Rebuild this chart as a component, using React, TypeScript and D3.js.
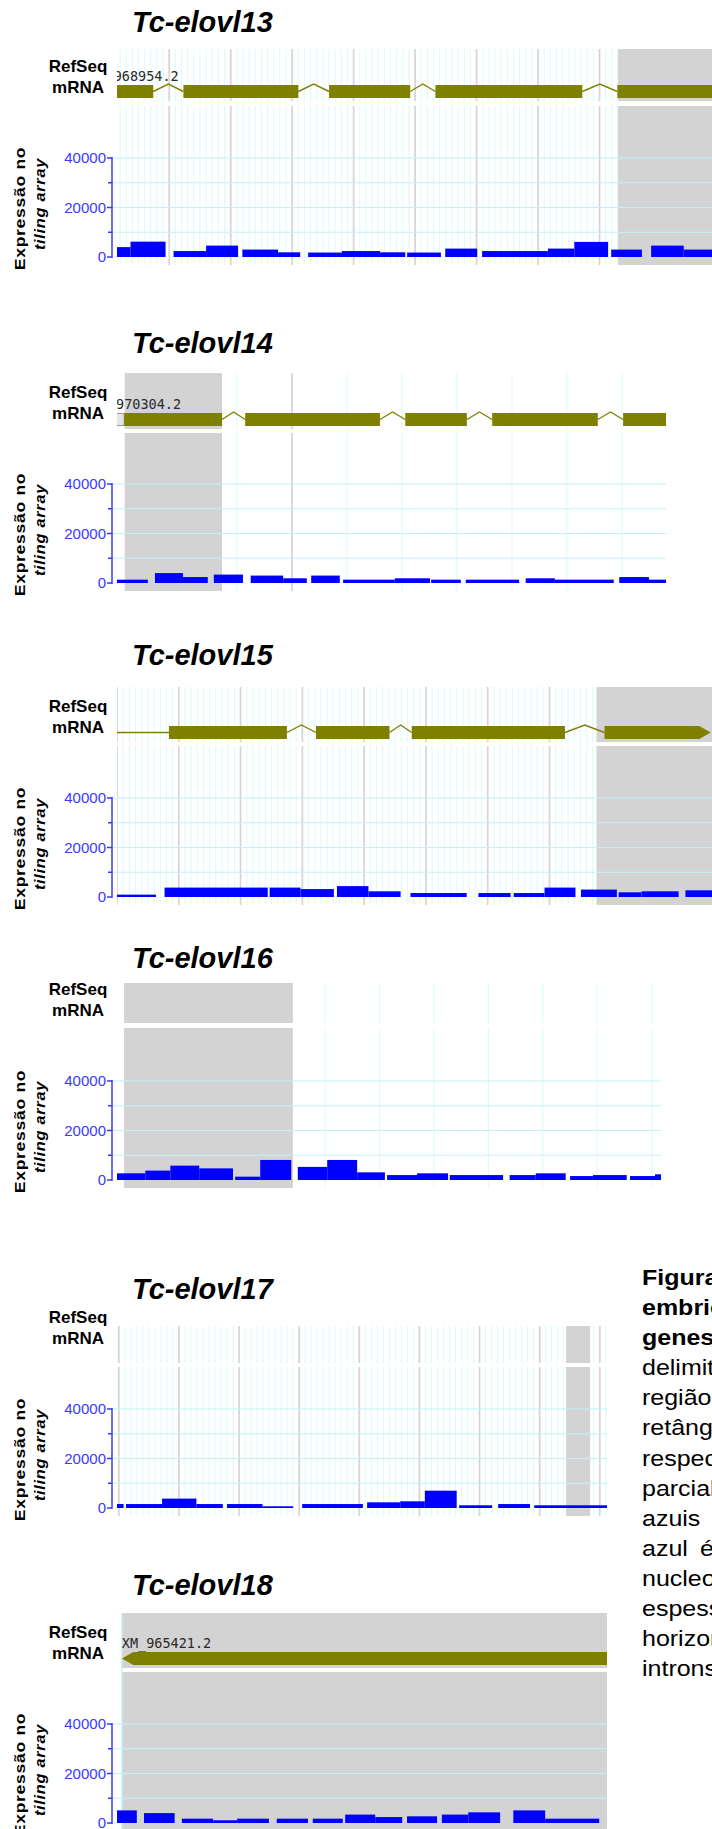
import React from "react";
import * as d3 from "d3";

// ---------- data ----------
const geneNames = ["Tc-elovl13", "Tc-elovl14", "Tc-elovl15", "Tc-elovl16", "Tc-elovl17", "Tc-elovl18"];
const accessions = ["XM_968954.2", "XM_970304.2", "", "", "", "XM_965421.2"];

const yGridValues = [10000, 20000, 30000, 40000];
const yTickValues = [0, 20000, 40000];
const yMinorTickValues = [10000, 30000];

// genomic window of each panel (kb)
const window13 = [0.15, 9.83];
const window14 = [6.82, 16.8];
const window15 = [0, 9.63];
const window16 = [9.18, 19.17];
const window17 = [9.97, 18.12];
const window18 = [0.92, 9.08];

// grid spacing (kb): minor cyan, major grey
const grid13 = [0.1, 1];
const grid14 = [1, 10];
const grid15 = [0.1, 1];
const grid16 = [1, 10];
const grid17 = [0.1, 1];
const grid18 = [1, 10];

// tiling array signal: [start kb, end kb, expression]
const signal13 = [
  [0.15, 0.37, 4000], [0.37, 0.94, 6200], [1.07, 1.6, 2400], [1.6, 2.12, 4600],
  [2.19, 2.77, 3000], [2.77, 3.13, 1900], [3.26, 3.81, 1800], [3.81, 4.43, 2400],
  [4.43, 4.84, 1900], [4.87, 5.42, 1800], [5.49, 6.01, 3400], [6.09, 7.16, 2400],
  [7.16, 7.59, 3400], [7.59, 8.14, 6100], [8.19, 8.69, 3000], [8.84, 9.37, 4600],
  [9.37, 10.0, 3000],
];
const signal14 = [
  [6.82, 7.38, 1350], [7.51, 8.02, 4000], [8.02, 8.47, 2400], [8.58, 9.11, 3400],
  [9.25, 9.84, 3000], [9.84, 10.27, 1900], [10.35, 10.87, 3000], [10.93, 11.87, 1350],
  [11.87, 12.51, 1900], [12.53, 13.07, 1350], [13.16, 14.13, 1350], [14.25, 14.78, 1900],
  [14.78, 15.85, 1350], [15.95, 16.49, 2400], [16.49, 16.8, 1350],
];
const signal15 = [
  [0, 0.63, 950], [0.77, 2.44, 3800], [2.47, 2.97, 3800], [2.97, 3.51, 3200],
  [3.56, 4.07, 4400], [4.07, 4.59, 2300], [4.75, 5.66, 1600], [5.85, 6.37, 1600],
  [6.42, 6.92, 1600], [6.92, 7.42, 3800], [7.51, 8.09, 3000], [8.12, 8.49, 1900],
  [8.49, 9.09, 2300], [9.2, 9.8, 2700],
];
const signal16 = [
  [9.18, 9.7, 2700], [9.7, 10.16, 3800], [10.16, 10.69, 5800], [10.69, 11.31, 4700],
  [11.35, 11.81, 1350], [11.81, 12.38, 8100], [12.5, 13.04, 5300], [13.04, 13.59, 8100],
  [13.59, 14.1, 3100], [14.14, 14.69, 2000], [14.69, 15.26, 2700], [15.29, 16.27, 2000],
  [16.39, 16.87, 2000], [16.87, 17.42, 2700], [17.5, 17.92, 1600], [17.92, 18.54, 2000],
  [18.6, 19.06, 1600], [19.06, 19.17, 2300],
];
const signal17 = [
  [9.97, 10.08, 1600], [10.12, 10.72, 1600], [10.72, 11.29, 3800], [11.29, 11.73, 1600],
  [11.8, 12.39, 1600], [12.39, 12.9, 700], [13.05, 14.06, 1600], [14.13, 14.68, 2300],
  [14.68, 15.09, 2700], [15.09, 15.62, 7000], [15.66, 16.21, 1100], [16.31, 16.84, 1600],
  [16.91, 18.12, 1100],
];
const signal18 = [
  [0.92, 1.25, 5100], [1.37, 1.88, 4000], [2.0, 2.52, 1750], [2.52, 2.92, 1100],
  [2.92, 3.45, 1750], [3.58, 4.1, 1750], [4.18, 4.68, 1750], [4.72, 5.22, 3400],
  [5.22, 5.67, 2400], [5.75, 6.25, 2700], [6.33, 6.77, 3400], [6.77, 7.3, 4300],
  [7.52, 8.05, 5100], [8.05, 8.95, 1750],
];

// RefSeq mRNA models (kb)
const exons13 = [[-0.3, 0.74], [1.23, 3.1], [3.6, 4.92], [5.33, 7.72], [8.29, 10.2]];
const exons14 = [[6.95, 8.73], [9.15, 11.6], [12.06, 13.18], [13.64, 15.56], [16.02, 16.8]];
const exons15 = [[0.84, 2.75], [3.22, 4.41], [4.77, 7.25], [7.89, 9.61]];
const exons16: number[][] = [];
const exons17: number[][] = [];
const exons18 = [[1.0, 9.08]];
const utrBoxes = [[], [[6.36, 6.95]], [], [], [], []];
const utrLines = [[], [], [[0, 0.84]], [], [], []];
const strands = ["", "", "+", "", "", "-"];

// grey selection boxes (kb)
const highlight13 = [[8.3, 10.2]];
const highlight14 = [[6.96, 8.73]];
const highlight15 = [[7.76, 10]];
const highlight16 = [[9.31, 12.41]];
const highlight17 = [[17.44, 17.84]];
const highlight18 = [[1.0, 9.08]];

const captionLines = [
  "Figura 12. Perfil de expressão",
  "embrionária dos",
  "genes Tc-elovl13 a 18.",
  "delimitados pelas linhas",
  "região codificante",
  "retângulos cinzas",
  "respectivamente",
  "parcialmente",
  "azuis",
  "azul",
  "nucleotídeos",
  "espessura",
  "horizontais",
  "introns.",
];

const windows = [window13, window14, window15, window16, window17, window18];
const grids = [grid13, grid14, grid15, grid16, grid17, grid18];
const signals = [signal13, signal14, signal15, signal16, signal17, signal18];
const exonSets = [exons13, exons14, exons15, exons16, exons17, exons18];
const highlights = [highlight13, highlight14, highlight15, highlight16, highlight17, highlight18];

// ---------- layout ----------
const layout = [
  { zero: 257, trackTop: 49, trackBottom: 101, exprTop: 106, right: 712, titleY: 32 },
  { zero: 583, trackTop: 373, trackBottom: 429, exprTop: 433, right: 666, titleY: 353 },
  { zero: 897, trackTop: 687, trackBottom: 742, exprTop: 746, right: 712, titleY: 665 },
  { zero: 1180, trackTop: 983, trackBottom: 1023, exprTop: 1028, right: 661, titleY: 968 },
  { zero: 1508, trackTop: 1326, trackBottom: 1363, exprTop: 1367, right: 607, titleY: 1299 },
  { zero: 1823, trackTop: 1613, trackBottom: 1668, exprTop: 1672, right: 607, titleY: 1595, edge: true },
];

const FONT = "'Liberation Sans', Arial, Helvetica, sans-serif";
const MONO = "'DejaVu Sans Mono', monospace";
const OLIVE = "#808000";
const BLUE = "#0000ff";
const AXIS = "#3a3aff";
const SHADE = "#d3d3d3";
const MINOR = "#d8fbfb";
const MAJOR = "#d6d6d6";
const HGRID = "#c4f2f2";
const LEFT = 117;
const AXIS_X = 112;

const stepValues = (d0: number, d1: number, step: number) => {
  const i0 = Math.ceil(d0 / step - 1e-6);
  const i1 = Math.floor(d1 / step + 1e-6);
  return d3.range(i0, i1 + 1).map((i) => +(i * step).toFixed(4));
};

function GenePanel({ i }: { i: number }) {
  const L: any = layout[i];
  const win = windows[i];
  const [minor, major] = grids[i];
  const x = d3.scaleLinear().domain(win).range([LEFT, L.right]);
  const y = d3.scaleLinear().domain([0, 40000]).range([L.zero, L.zero - 99]);
  const exprBottom = L.zero + 8;
  const yc = L.trackBottom - 9.5;
  const exTop = yc - 6.5;
  const exBot = yc + 6.5;
  const clipId = `clip-${i}`;

  const gridVals = stepValues(win[0], win[1], minor);
  const isMajor = (v: number) => Math.abs(v / major - Math.round(v / major)) < 1e-6;

  const exons = exonSets[i];
  const introns = exons.slice(1).map((e, k) => [exons[k][1], e[0]]);
  const parts = [...exons, ...utrBoxes[i], ...utrLines[i]];
  const geneStart = parts.length ? d3.min(parts, (p) => p[0]) : null;
  const arrow = 11.5;

  const exonShape = (e: number[], k: number) => {
    const x1 = x(e[0]);
    const x2 = x(e[1]);
    if (strands[i] === "+" && k === exons.length - 1) {
      return `${x1},${exTop} ${x2 - arrow},${exTop} ${x2},${yc} ${x2 - arrow},${exBot} ${x1},${exBot}`;
    }
    if (strands[i] === "-" && k === 0) {
      return `${x1},${yc} ${x1 + arrow},${exTop} ${x2},${exTop} ${x2},${exBot} ${x1 + arrow},${exBot}`;
    }
    return `${x1},${exTop} ${x2},${exTop} ${x2},${exBot} ${x1},${exBot}`;
  };

  const bands = [
    [L.trackTop, L.trackBottom],
    [L.exprTop, exprBottom],
  ];

  return (
    <g>
      <defs>
        <clipPath id={clipId}>
          <rect x={LEFT} y={L.trackTop} width={L.right - LEFT} height={exprBottom - L.trackTop} />
        </clipPath>
      </defs>

      <g clipPath={`url(#${clipId})`}>
        {/* vertical grid */}
        {bands.map(([t, b], bi) =>
          gridVals
            .filter((v) => !isMajor(v))
            .map((v) => (
              <line key={`m${bi}-${v}`} x1={x(v)} x2={x(v)} y1={t} y2={b} stroke={MINOR} strokeWidth={1} />
            ))
        )}
        {bands.map(([t, b], bi) =>
          gridVals
            .filter((v) => isMajor(v))
            .map((v) => (
              <line key={`M${bi}-${v}`} x1={x(v)} x2={x(v)} y1={t} y2={b} stroke={MAJOR} strokeWidth={1.8} />
            ))
        )}

        {/* grey selection */}
        {highlights[i].map((h, k) =>
          bands.map(([t, b], bi) => (
            <rect key={`h${k}-${bi}`} x={x(h[0])} y={t} width={x(h[1]) - x(h[0])} height={b - t} fill={SHADE} />
          ))
        )}
        {L.edge &&
          highlights[i].map((h, k) => (
            <line key={`e${k}`} x1={x(h[0])} x2={x(h[0])} y1={L.trackTop} y2={exprBottom} stroke="#c8f6f6" strokeWidth={1.5} />
          ))}
      </g>

      {/* horizontal grid */}
      {yGridValues.map((v) => (
        <line key={`g${v}`} x1={AXIS_X} x2={L.right} y1={y(v)} y2={y(v)} stroke={HGRID} strokeWidth={1.2} />
      ))}

      <g clipPath={`url(#${clipId})`}>
        {/* gene model */}
        {utrLines[i].map((u, k) => (
          <line key={`ul${k}`} x1={x(u[0])} x2={x(u[1])} y1={yc} y2={yc} stroke={OLIVE} strokeWidth={1.6} />
        ))}
        {introns.map((n, k) => (
          <path
            key={`i${k}`}
            d={`M${x(n[0])},${yc} L${(x(n[0]) + x(n[1])) / 2},${exTop - 1} L${x(n[1])},${yc}`}
            fill="none"
            stroke={OLIVE}
            strokeWidth={1.4}
          />
        ))}
        {utrBoxes[i].map((u, k) => (
          <rect key={`ub${k}`} x={x(u[0])} y={exTop + 0.5} width={x(u[1]) - x(u[0])} height={exBot - exTop - 1} fill="#e4e4e4" stroke="#9a9a9a" strokeWidth={1} />
        ))}
        {exons.map((e, k) => (
          <polygon key={`x${k}`} points={exonShape(e, k)} fill={OLIVE} />
        ))}
        {accessions[i] && geneStart !== null && (
          <text x={x(geneStart)} y={exTop - 4.5} fontFamily={MONO} fontSize={13.5} fill="#2a2a2a">
            {accessions[i]}
          </text>
        )}

        {/* tiling array signal */}
        {signals[i].map((s, k) => (
          <rect key={`b${k}`} x={x(s[0])} y={y(s[2])} width={x(s[1]) - x(s[0])} height={L.zero - y(s[2])} fill={BLUE} />
        ))}
      </g>

      {/* y axis */}
      <line x1={AXIS_X} x2={AXIS_X} y1={y(40000) - 1} y2={L.zero + 1} stroke={AXIS} strokeWidth={1.5} />
      {yTickValues.map((v) => (
        <g key={`t${v}`}>
          <line x1={AXIS_X - 5} x2={AXIS_X} y1={y(v)} y2={y(v)} stroke={AXIS} strokeWidth={1.5} />
          <text x={106} y={y(v)} dy="0.36em" textAnchor="end" fontFamily={FONT} fontSize={15} fill={AXIS}>
            {d3.format("d")(v)}
          </text>
        </g>
      ))}
      {yMinorTickValues.map((v) => (
        <line key={`mt${v}`} x1={AXIS_X - 4} x2={AXIS_X} y1={y(v)} y2={y(v)} stroke={AXIS} strokeWidth={1.5} />
      ))}

      {/* labels */}
      <text x={132} y={L.titleY} fontFamily={FONT} fontSize={29} fontWeight="bold" fontStyle="italic" fill="#000">
        {geneNames[i]}
      </text>
      <text x={78} y={L.zero - 185} textAnchor="middle" fontFamily={FONT} fontSize={17} fontWeight="bold" fill="#000">
        RefSeq
      </text>
      <text x={78} y={L.zero - 164} textAnchor="middle" fontFamily={FONT} fontSize={17} fontWeight="bold" fill="#000">
        mRNA
      </text>
      <text
        transform={`translate(24.5, ${L.zero - 48.5}) scale(1, 1.17) rotate(-90)`}
        textAnchor="middle"
        fontFamily={FONT}
        fontSize={15}
        fontWeight="bold"
        letterSpacing={0.6}
        fill="#000"
      >
        Expressão no
      </text>
      <text
        transform={`translate(45, ${L.zero - 53}) scale(1, 1.17) rotate(-90)`}
        textAnchor="middle"
        fontFamily={FONT}
        fontSize={14}
        fontWeight="bold"
        fontStyle="italic"
        letterSpacing={0.6}
        fill="#000"
      >
        tiling array
      </text>
    </g>
  );
}

function Caption() {
  const step = 30.1 / 0.87;
  return (
    <g transform="translate(642, 1285) scale(1, 0.87)" fontFamily={FONT} fontSize={25} fill="#000">
      {captionLines.map((t, k) => (
        <text key={k} x={0} y={k * step} fontWeight={k < 3 ? "bold" : "normal"}>
          {t}
        </text>
      ))}
      <text x={58} y={9 * step}>é</text>
    </g>
  );
}

export default function App() {
  return (
    <div style={{ position: "absolute", left: 0, top: 0 }}>
      <svg width={712} height={1829} style={{ display: "block", background: "#fff" }}>
        {geneNames.map((_, i) => (
          <GenePanel key={i} i={i} />
        ))}
        <Caption />
      </svg>
    </div>
  );
}
